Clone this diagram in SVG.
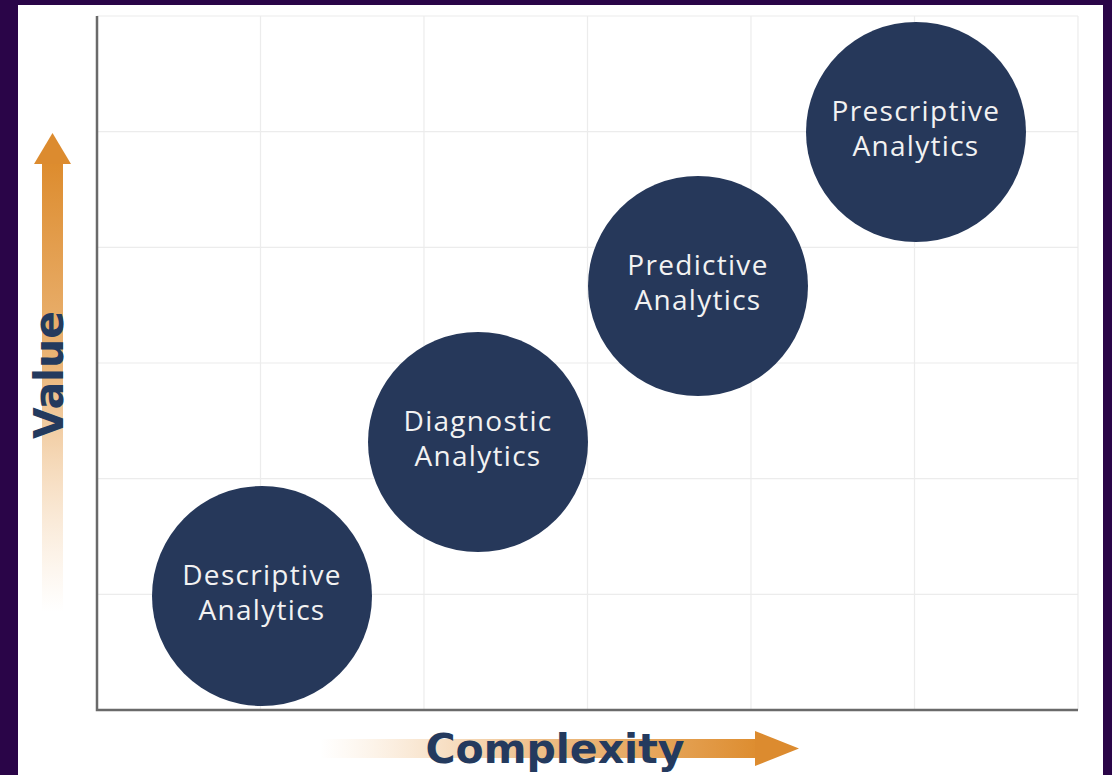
<svg xmlns="http://www.w3.org/2000/svg" width="1112" height="775" viewBox="0 0 1112 775">
  <defs>
    <linearGradient id="gv" x1="0" y1="164" x2="0" y2="612" gradientUnits="userSpaceOnUse">
      <stop offset="0" stop-color="#dd8c2e"/>
      <stop offset="0.45" stop-color="#e7a860" stop-opacity="0.85"/>
      <stop offset="1" stop-color="#f3c999" stop-opacity="0"/>
    </linearGradient>
    <linearGradient id="gh" x1="320" y1="0" x2="760" y2="0" gradientUnits="userSpaceOnUse">
      <stop offset="0" stop-color="#f3c999" stop-opacity="0"/>
      <stop offset="0.5" stop-color="#e9ad68" stop-opacity="0.8"/>
      <stop offset="1" stop-color="#dd8c2e"/>
    </linearGradient>
    <style>
      .grid { stroke: #ececec; stroke-width: 1.2; fill: none; }
      .axis { stroke: #6a6a6a; stroke-width: 2.5; fill: none; }
      .node circle { fill: #26385a; }
      .node text { fill: #f2f2f2; font-family: "Open Sans", "Noto Sans", sans-serif; font-size: 28px; text-anchor: middle; letter-spacing: 1.3px; }
      .lbl { fill: #243a5e; font-family: "DejaVu Sans", "Liberation Sans", sans-serif; font-weight: bold; text-anchor: middle; }
      .head { fill: #dc8b2f; }
    </style>
  </defs>
  <rect x="0" y="0" width="1112" height="775" fill="#2a0548"/>
  <rect x="18" y="5" width="1085" height="770" fill="#ffffff"/>

  <g id="grid">
    <line class="grid" x1="97" y1="16" x2="1078" y2="16"/>
    <line class="grid" x1="97" y1="131.7" x2="1078" y2="131.7"/>
    <line class="grid" x1="97" y1="247.3" x2="1078" y2="247.3"/>
    <line class="grid" x1="97" y1="363" x2="1078" y2="363"/>
    <line class="grid" x1="97" y1="478.7" x2="1078" y2="478.7"/>
    <line class="grid" x1="97" y1="594.3" x2="1078" y2="594.3"/>
    <line class="grid" x1="260.5" y1="16" x2="260.5" y2="710"/>
    <line class="grid" x1="424" y1="16" x2="424" y2="710"/>
    <line class="grid" x1="587.5" y1="16" x2="587.5" y2="710"/>
    <line class="grid" x1="751" y1="16" x2="751" y2="710"/>
    <line class="grid" x1="914.5" y1="16" x2="914.5" y2="710"/>
    <line class="grid" x1="1078" y1="16" x2="1078" y2="710"/>
  </g>
  <g id="axes">
    <polyline class="axis" points="97,16 97,710 1078,710"/>
  </g>

  <g id="value-axis">
    <rect x="42" y="162" width="21" height="450" fill="url(#gv)"/>
    <polygon class="head" points="52.5,133 71,164 34,164"/>
    <text class="lbl" font-size="41" transform="translate(63,375) rotate(-90)">Value</text>
  </g>

  <g id="complexity-axis">
    <rect x="320" y="739" width="437" height="19" fill="url(#gh)"/>
    <polygon class="head" points="799,748.5 755,731 755,766"/>
    <text class="lbl" font-size="41" x="555" y="763">Complexity</text>
  </g>

  <g id="descriptive" class="node">
    <circle cx="262" cy="596" r="110"/>
    <text x="262" y="585">Descriptive</text>
    <text x="262" y="620">Analytics</text>
  </g>
  <g id="diagnostic" class="node">
    <circle cx="478" cy="442" r="110"/>
    <text x="478" y="431">Diagnostic</text>
    <text x="478" y="466">Analytics</text>
  </g>
  <g id="predictive" class="node">
    <circle cx="698" cy="286" r="110"/>
    <text x="698" y="275">Predictive</text>
    <text x="698" y="310">Analytics</text>
  </g>
  <g id="prescriptive" class="node">
    <circle cx="916" cy="132" r="110"/>
    <text x="916" y="121">Prescriptive</text>
    <text x="916" y="156">Analytics</text>
  </g>
</svg>
